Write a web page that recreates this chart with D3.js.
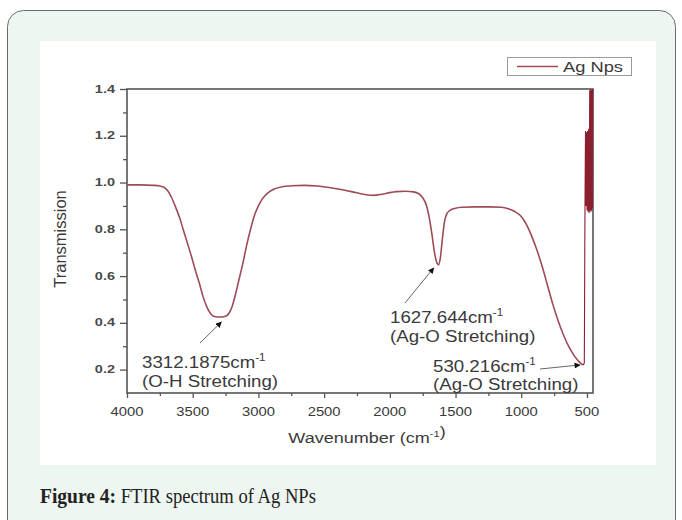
<!DOCTYPE html>
<html><head><meta charset="utf-8">
<script src="https://cdn.jsdelivr.net/npm/d3@7"></script>
<style>
body{margin:0;background:#fff;}
svg{display:block;font-family:"Liberation Sans",Arial,sans-serif;}
</style>
</head><body><svg id="c" width="682" height="520"></svg>
<script>
// ---- data ----
const wavenumbers = [4000,3900,3800,3750,3720,3690,3660,3630,3600,3570,3540,3510,3480,3450,3420,3390,3360,3340,3312,3280,3250,3225,3200,3175,3150,3120,3090,3060,3030,3000,2970,2930,2880,2820,2750,2650,2550,2450,2350,2250,2180,2125,2060,2000,1950,1880,1820,1780,1750,1720,1700,1680,1660,1645,1630,1615,1600,1585,1565,1540,1500,1450,1350,1250,1150,1100,1050,1000,960,920,880,840,800,760,720,680,640,600,570,545,530];
const transmission = [0.990,0.990,0.988,0.985,0.980,0.965,0.935,0.895,0.850,0.795,0.740,0.685,0.625,0.570,0.510,0.465,0.437,0.428,0.425,0.425,0.428,0.440,0.470,0.520,0.580,0.650,0.730,0.800,0.860,0.900,0.930,0.955,0.972,0.982,0.986,0.988,0.985,0.978,0.968,0.956,0.948,0.945,0.950,0.957,0.961,0.963,0.960,0.952,0.935,0.900,0.850,0.780,0.700,0.662,0.648,0.680,0.760,0.830,0.868,0.882,0.890,0.894,0.896,0.896,0.894,0.888,0.876,0.855,0.820,0.770,0.710,0.640,0.560,0.480,0.410,0.350,0.300,0.262,0.240,0.226,0.220];
const spikeWavenumbers = [530,525,520,515,511,507,503,499,495,491,487,483,479,476,473,470,467,464,461,458,456];
const spikeTransmission = [0.220,0.222,0.230,0.900,1.220,0.900,1.215,0.880,1.220,0.875,1.230,0.870,1.395,0.880,1.398,0.875,1.395,0.880,1.400,0.890,1.400];
const xTickValues = [4000,3500,3000,2500,2000,1500,1000,500];
const xMinorTicks = [3750,3250,2750,2250,1750,1250,750];
const yTickValues = [0.2,0.4,0.6,0.8,1.0,1.2,1.4];
const yMinorTicks = [0.3,0.5,0.7,0.9,1.1,1.3];
const seriesName = "Ag Nps";
const peakWavenumbers = [3312.1875, 1627.644, 530.216];
const peakTransmission = [0.425, 0.648, 0.220];
const peakLabels = ["3312.1875cm", "1627.644cm", "530.216cm"];
const peakModes = ["(O-H Stretching)", "(Ag-O Stretching)", "(Ag-O Stretching)"];
const xTitle = "Wavenumber (cm";
const yTitle = "Transmission";
const captionBold = "Figure 4:";
const captionText = " FTIR spectrum of Ag NPs";

// ---- drawing ----
const svg = d3.select("#c");
const curveColor = "#9e4b55";
const textColor = "#3a3a3a";
const axisColor = "#555";

// outer panel
svg.append("rect").attr("x",7.5).attr("y",10.5).attr("width",668).attr("height",540)
  .attr("rx",16).attr("fill","#eef6f1").attr("stroke","#6a6a6a").attr("stroke-width",1);
svg.append("rect").attr("x",40).attr("y",41).attr("width",616).attr("height",424).attr("fill","#fff");

const L=127, R=593, T=89, B=393;
const x = d3.scaleLinear().domain([4000,454]).range([L,R]);
const y = d3.scaleLinear().domain([0.1,1.4]).range([B,T]);

function stretchText(parent, px, py, parts, o){
  const g = parent.append("g").attr("transform",`translate(${px},${py}) scale(${o.sx||1},1)`);
  const t = g.append("text").attr("text-anchor",o.anchor||"start")
    .attr("font-size",o.size).attr("fill",o.color||textColor)
    .attr("font-weight",o.weight||"normal");
  if(o.family) t.attr("font-family",o.family);
  parts.forEach(p=>{
    if(p.sup){
      t.append("tspan").attr("font-size",o.size*0.62).attr("dy",-o.size*0.42).text(p.t);
      t.append("tspan").attr("font-size",o.size).attr("dy",o.size*0.42).text("");
    } else {
      const s=t.append("tspan").text(p.t);
      if(p.weight) s.attr("font-weight",p.weight);
      if(p.size) s.attr("font-size",p.size);
    }
  });
  return g;
}

// axes
const gx = svg.append("g").attr("transform",`translate(0,${B})`)
  .call(d3.axisBottom(x).tickValues(xTickValues).tickSize(5).tickFormat(""));
const gxm = svg.append("g").attr("transform",`translate(0,${B})`)
  .call(d3.axisBottom(x).tickValues(xMinorTicks).tickSize(3).tickFormat(""));
const gy = svg.append("g").attr("transform",`translate(${L},0)`)
  .call(d3.axisLeft(y).tickValues(yTickValues).tickSize(7).tickFormat(""));
const gym = svg.append("g").attr("transform",`translate(${L},0)`)
  .call(d3.axisLeft(y).tickValues(yMinorTicks).tickSize(4).tickFormat(""));
[gx,gxm,gy,gym].forEach(g=>{
  g.select(".domain").remove();
  g.selectAll("line").attr("stroke",axisColor).attr("stroke-width",1.3);
});
// frame
svg.append("rect").attr("x",L).attr("y",T).attr("width",R-L).attr("height",B-T)
  .attr("fill","none").attr("stroke",axisColor).attr("stroke-width",1.6);

// tick labels
xTickValues.forEach(v=>{
  stretchText(svg, x(v), 416, [{t:d3.format("d")(v)}], {size:13, sx:1.14, anchor:"middle"});
});
yTickValues.forEach(v=>{
  stretchText(svg, 115, y(v)+3.6, [{t:d3.format(".1f")(v)}], {size:10, sx:1.45, anchor:"end", weight:"bold", color:"#4a4a4a"});
});

// axis titles
stretchText(svg, 367, 443, [{t:xTitle},{t:"-1",sup:true},{t:")"}], {size:15.4, sx:1.17, anchor:"middle"});
svg.append("text").attr("transform",`translate(66,239) rotate(-90)`).attr("text-anchor","middle")
  .attr("font-size",16.5).attr("fill",textColor).text(yTitle);

// curve
const line = d3.line().x(d=>x(d[0])).y(d=>y(d[1])).curve(d3.curveMonotoneX);
const main = wavenumbers.map((w,i)=>[w,transmission[i]]);
svg.append("path").datum(main).attr("d",line).attr("fill","none")
  .attr("stroke",curveColor).attr("stroke-width",1.6);
const spike = spikeWavenumbers.map((w,i)=>[w,spikeTransmission[i]]);
svg.append("path").datum(spike).attr("d",d3.line().x(d=>x(d[0])).y(d=>y(d[1])))
  .attr("fill","none").attr("stroke","#8a1f30").attr("stroke-width",1.1);

// annotations
const defs = svg.append("defs");
defs.append("marker").attr("id","ah").attr("viewBox","0 0 10 10").attr("refX",9).attr("refY",5)
  .attr("markerWidth",7).attr("markerHeight",6).attr("markerUnits","userSpaceOnUse").attr("orient","auto")
  .append("path").attr("d","M0,0 L10,5 L0,10 Z").attr("fill","#111");

const annTextPos = [[142,368],[390,323],[433,372]];
const annLineGap = [19,19,18];
const arrowStart = [[200,343],[405,303],[540,369]];
const arrowTipOffset = [[4,5],[-5,3],[-3,0]];
peakLabels.forEach((lab,i)=>{
  const [tx,ty]=annTextPos[i];
  stretchText(svg, tx, ty, [{t:lab},{t:"-1",sup:true}], {size:17, sx:1.1});
  stretchText(svg, tx, ty+annLineGap[i], [{t:peakModes[i]}], {size:17, sx:1.1});
  const tip=[x(peakWavenumbers[i])+arrowTipOffset[i][0], y(peakTransmission[i])+arrowTipOffset[i][1]];
  svg.append("line").attr("x1",arrowStart[i][0]).attr("y1",arrowStart[i][1])
    .attr("x2",tip[0]).attr("y2",tip[1]).attr("stroke","#555").attr("stroke-width",0.9)
    .attr("marker-end","url(#ah)");
});

// legend
svg.append("rect").attr("x",507.5).attr("y",57.5).attr("width",124).attr("height",18)
  .attr("fill","#fff").attr("stroke","#9a9a9a").attr("stroke-width",1);
svg.append("line").attr("x1",517).attr("x2",558).attr("y1",66.5).attr("y2",66.5)
  .attr("stroke",curveColor).attr("stroke-width",1.6);
stretchText(svg, 563, 71.5, [{t:seriesName}], {size:15, sx:1.22});

// caption
stretchText(svg, 40, 503, [{t:captionBold, weight:"bold", size:21},{t:captionText, size:20}],
  {size:20, sx:0.93, color:"#222", family:"'Liberation Serif','DejaVu Serif',serif"});
</script></body></html>
